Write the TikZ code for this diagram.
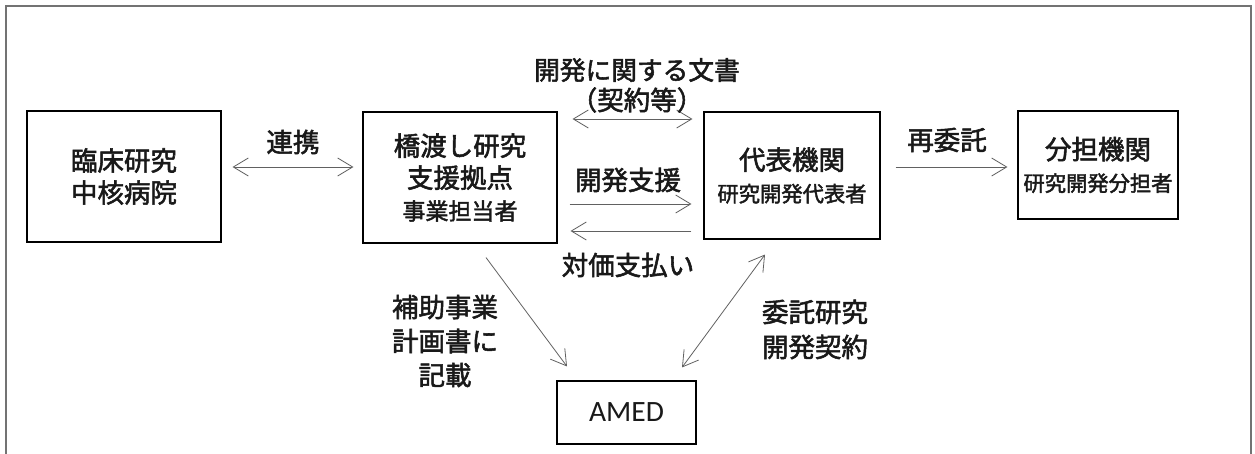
\documentclass[tikz,border=0pt]{standalone}
\usepackage{fontspec}
\setmainfont{Noto Sans CJK JP}[FakeBold=2]
\newfontfamily\latinfont{Carlito}
\usetikzlibrary{arrows.meta,calc}
\newcommand{\bigjp}{\fontsize{26.5}{32}\selectfont}
\newcommand{\smalljp}{\fontsize{21.3}{29}\selectfont}
\newcommand{\midjp}{\fontsize{23}{30}\selectfont}
\begin{document}
\begin{tikzpicture}[x=1pt,y=-1pt,
  box/.style={draw=black, line width=1.1pt, align=center, inner sep=0pt, text=black!90},
  lbl/.style={align=center, inner sep=0pt, text=black!90, font=\bigjp},
  conn/.style={draw=black!62, line width=0.8pt},
  tip/.tip={Straight Barb[length=15pt,width=18pt,line width=0.8pt]},
  frame/.style={draw=black!55, line width=1.4pt}]
\useasboundingbox (0,0) rectangle (1255,454);
\fill[white] (0,0) rectangle (1255,454);
\draw[frame] (6,470) -- (6,6) -- (1251,6) -- (1251,470);

% boxes
\node[box, font=\bigjp, minimum width=194pt, minimum height=131pt] (rinsho) at (124,176.5) {臨床研究\\中核病院};
\node[box, font=\bigjp, minimum width=194pt, minimum height=131pt] (kyoten) at (460,177.5) {橋渡し研究\\支援拠点\\\midjp 事業担当者};
\node[box, font=\bigjp, minimum width=176pt, minimum height=127pt] (daihyo) at (792,175.5) {代表機関\\\smalljp 研究開発代表者};
\node[box, font=\bigjp, minimum width=160pt, minimum height=108pt] (buntan) at (1098,165) {分担機関\\\smalljp 研究開発分担者};
\node[box, font={\latinfont\fontsize{29.5}{32}\selectfont}, minimum width=139pt, minimum height=63pt] (amed) at (626.5,412.5) {AMED};

% connectors
\draw[conn, tip-tip, shorten <=11pt, shorten >=9pt]
  ([yshift=9.5pt]rinsho.east) -- ([yshift=9.5pt]rinsho.east -| kyoten.west);
\draw[conn, tip-tip, shorten <=15pt, shorten >=11pt]
  ([yshift=58.5pt]kyoten.east) -- ([yshift=58.5pt]kyoten.east -| daihyo.west);
\draw[conn, -tip, shorten <=12pt, shorten >=12pt]
  ([yshift=-26.5pt]kyoten.east) -- ([yshift=-26.5pt]kyoten.east -| daihyo.west);
\draw[conn, -tip, shorten <=12pt, shorten >=13pt]
  ([yshift=-53.5pt]kyoten.east -| daihyo.west) -- ([yshift=-53.5pt]kyoten.east);
\draw[conn, -tip, shorten <=15pt, shorten >=10pt]
  ([yshift=8.5pt]daihyo.east) -- ([yshift=8.5pt]daihyo.east -| buntan.west);
\draw[conn, -tip]
  ($(kyoten.south)+(26,14)$) -- ($(amed.north)+(-59.5,-14)$);
\draw[conn, tip-tip]
  ($(amed.north)+(55.5,-13)$) -- ($(daihyo.south)+(-27,15)$);

% labels
\node[lbl] (lrenkei) at (293,142) {連携};
\node[lbl, font=\fontsize{25.7}{32}\selectfont] (lbunsho) at (637,70) {開発に関する文書};
\node[lbl] (lkeiyaku) at (637,100) {（契約等）};
\node[lbl] (lshien) at (628,180) {開発支援};
\node[lbl] (ltaika) at (628,265) {対価支払い};
\node[lbl] (lsaiitaku) at (947,140) {再委託};
\node[lbl, font=\fontsize{26.5}{34}\selectfont] (lhojo) at (445,341) {補助事業\\計画書に\\記載};
\node[lbl, font=\fontsize{26.5}{35}\selectfont] (litaku) at (815,329.5) {委託研究\\開発契約};
\end{tikzpicture}
\end{document}
